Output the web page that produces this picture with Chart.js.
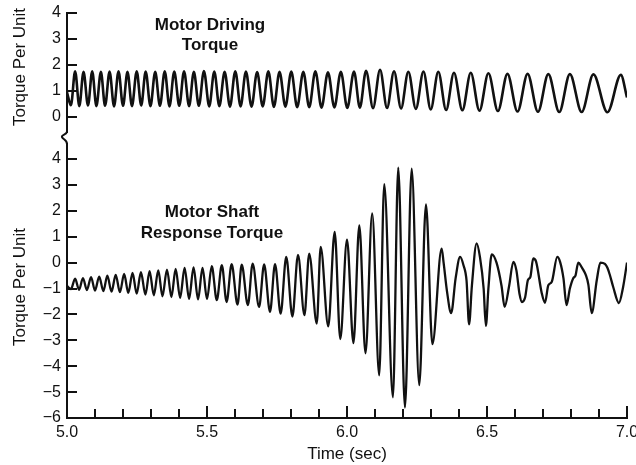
<!DOCTYPE html>
<html>
<head>
<meta charset="utf-8">
<title>Motor driving / shaft response torque</title>
<script src="https://cdn.jsdelivr.net/npm/chart.js@4.4.1/dist/chart.umd.min.js"></script>
<style>
  html, body { margin: 0; padding: 0; background: #fff; }
  #wrap { position: relative; width: 636px; height: 465px; }
  #wrap canvas { position: absolute; left: 0; top: 0; }
</style>
</head>
<body>
<div id="wrap">
  <canvas id="driveChart" width="636" height="465"></canvas>
  <canvas id="shaftChart" width="636" height="465"></canvas>
</div>
<script>
// --- data (time in s, torque in per unit) ---

// x axis ticks: every 0.1 s, labelled every 0.5 s
const timeTicks = [5.0, 5.1, 5.2, 5.3, 5.4, 5.5, 5.6, 5.7, 5.8, 5.9, 6.0,
                   6.1, 6.2, 6.3, 6.4, 6.5, 6.6, 6.7, 6.8, 6.9, 7.0];
const timeLabels = ['5.0', '5.5', '6.0', '6.5', '7.0'];
const driveTicks = [0, 1, 2, 3, 4];
const shaftTicks = [-6, -5, -4, -3, -2, -1, 0, 1, 2, 3, 4];

// motor driving torque: peaks / troughs of the pulsation
const driveTime = [5.000, 5.014, 5.029, 5.044, 5.059, 5.075, 5.090, 5.105, 5.121, 5.136,
    5.152, 5.168, 5.184, 5.200, 5.216, 5.232, 5.249, 5.265, 5.281, 5.298,
    5.315, 5.332, 5.349, 5.366, 5.383, 5.401, 5.418, 5.436, 5.453, 5.471,
    5.489, 5.508, 5.526, 5.544, 5.563, 5.582, 5.601, 5.620, 5.639, 5.659,
    5.679, 5.699, 5.719, 5.739, 5.759, 5.780, 5.801, 5.822, 5.844, 5.865,
    5.887, 5.909, 5.932, 5.955, 5.978, 6.001, 6.025, 6.046, 6.068, 6.093,
    6.118, 6.143, 6.168, 6.193, 6.219, 6.246, 6.273, 6.299, 6.326, 6.354,
    6.382, 6.412, 6.442, 6.473, 6.505, 6.539, 6.573, 6.609, 6.645, 6.682,
    6.719, 6.758, 6.796, 6.838, 6.880, 6.930, 6.978, 7.000];
const driveTorque = [0.95, 0.45, 1.76, 0.42, 1.74, 0.44, 1.76, 0.42, 1.74, 0.43,
    1.75, 0.41, 1.76, 0.43, 1.74, 0.42, 1.76, 0.44, 1.75, 0.42,
    1.74, 0.43, 1.76, 0.41, 1.75, 0.43, 1.76, 0.42, 1.74, 0.43,
    1.77, 0.41, 1.75, 0.42, 1.74, 0.40, 1.76, 0.41, 1.75, 0.40,
    1.73, 0.41, 1.76, 0.39, 1.74, 0.40, 1.75, 0.38, 1.74, 0.38,
    1.76, 0.36, 1.72, 0.37, 1.74, 0.35, 1.75, 0.36, 1.78, 0.34,
    1.82, 0.35, 1.76, 0.33, 1.74, 0.31, 1.75, 0.29, 1.74, 0.27,
    1.70, 0.26, 1.70, 0.24, 1.68, 0.23, 1.66, 0.21, 1.66, 0.20,
    1.65, 0.19, 1.65, 0.19, 1.64, 0.18, 1.62, 0.75];

// motor shaft response torque
const shaftTime = [5.000, 5.014, 5.029, 5.043, 5.057, 5.071, 5.086, 5.100, 5.115, 5.130,
    5.144, 5.159, 5.174, 5.189, 5.204, 5.219, 5.234, 5.249, 5.264, 5.280,
    5.295, 5.310, 5.326, 5.341, 5.357, 5.373, 5.388, 5.404, 5.420, 5.436,
    5.452, 5.468, 5.484, 5.500, 5.517, 5.535, 5.553, 5.570, 5.588, 5.609,
    5.624, 5.646, 5.663, 5.686, 5.704, 5.725, 5.743, 5.763, 5.783, 5.805,
    5.825, 5.848, 5.865, 5.892, 5.906, 5.933, 5.956, 5.976, 6.000, 6.023,
    6.044, 6.066, 6.090, 6.115, 6.133, 6.164, 6.183, 6.207, 6.231, 6.258,
    6.282, 6.305, 6.338, 6.345, 6.357, 6.372, 6.388, 6.404, 6.416, 6.427,
    6.436, 6.446, 6.463, 6.475, 6.488, 6.496, 6.505, 6.517, 6.534, 6.552,
    6.563, 6.579, 6.594, 6.605, 6.616, 6.625, 6.636, 6.646, 6.655, 6.665,
    6.675, 6.695, 6.707, 6.719, 6.731, 6.751, 6.761, 6.773, 6.784, 6.796,
    6.808, 6.816, 6.826, 6.838, 6.845, 6.852, 6.862, 6.874, 6.892, 6.905,
    6.921, 6.930, 6.938, 6.951, 6.971, 6.986, 7.000];
const shaftTorque = [-0.90, -1.02, -0.62, -1.05, -0.60, -1.06, -0.56, -1.08, -0.54, -1.10,
    -0.50, -1.12, -0.47, -1.14, -0.44, -1.17, -0.40, -1.20, -0.37, -1.23,
    -0.33, -1.26, -0.30, -1.30, -0.27, -1.33, -0.24, -1.36, -0.20, -1.40,
    -0.18, -1.42, -0.20, -1.40, -0.14, -1.45, -0.10, -1.52, -0.06, -1.62,
    -0.08, -1.64, -0.04, -1.71, -0.07, -1.90, -0.06, -1.97, 0.22, -2.08,
    0.30, -2.03, 0.35, -2.35, 0.61, -2.46, 1.19, -2.95, 0.89, -3.11,
    1.44, -3.50, 1.90, -4.35, 3.03, -5.20, 3.67, -5.60, 3.63, -4.73,
    2.25, -3.15, 0.54, 0.00, -1.10, -1.95, -0.60, 0.22, -0.10, -0.70,
    -2.38, -0.90, 0.74, 0.20, -1.00, -2.44, -1.00, 0.32, 0.00, -0.90,
    -1.71, -0.90, 0.03, -0.30, -1.20, -1.52, -1.35, -0.68, -0.55, 0.16,
    0.05, -1.15, -1.55, -0.87, -0.75, 0.22, 0.03, -0.60, -1.64, -1.00,
    -0.60, -0.50, 0.00, -0.17, -0.30, -0.45, -0.85, -1.95, -0.68, 0.00,
    -0.05, -0.20, -0.45, -0.95, -1.56, -0.95, 0.00];

// --- look ---
const INK = '#111';
const FONT = "'Liberation Sans', Arial, Helvetica, sans-serif";

function fmtTorque(v) {
    return v < 0 ? '\u2212' + (-v) : String(v);
}

function toPoints(xs, ys) {
    return xs.map((x, i) => ({ x: x, y: ys[i] }));
}

// inward tick marks, axis break, panel notes and the rotated y titles
const decorPlugin = {
    id: 'decor',
    afterDraw(chart, args, opts) {
        const ctx = chart.ctx;
        const area = chart.chartArea;
        ctx.save();
        ctx.strokeStyle = INK;
        ctx.fillStyle = INK;
        ctx.lineWidth = 2;

        const ys = chart.scales.y;
        ys.ticks.forEach(t => {
            const py = Math.round(ys.getPixelForValue(t.value));
            ctx.beginPath();
            ctx.moveTo(area.left, py);
            ctx.lineTo(area.left + 10, py);
            ctx.stroke();
        });

        const xs = chart.scales.x;
        if (xs.options.display) {
            xs.ticks.forEach(t => {
                const px = Math.round(xs.getPixelForValue(t.value));
                const len = timeLabels.includes(t.value.toFixed(1)) ? 12 : 9;
                ctx.beginPath();
                ctx.moveTo(px, area.bottom);
                ctx.lineTo(px, area.bottom - len);
                ctx.stroke();
            });
        }

        if (opts.axisBreak) {
            const x0 = area.left;
            const yb = area.bottom;
            ctx.beginPath();
            ctx.moveTo(x0, yb - 1);
            ctx.bezierCurveTo(x0, yb + 2, x0 - 6, yb + 2, x0 - 5, yb + 4.5);
            ctx.bezierCurveTo(x0 - 4, yb + 7, x0, yb + 7, x0, yb + 11.5);
            ctx.stroke();
        }

        ctx.textAlign = 'center';
        ctx.textBaseline = 'middle';
        (opts.notes || []).forEach(n => {
            ctx.font = 'bold 17px ' + FONT;
            ctx.fillText(n.text, n.x, n.y);
        });

        if (opts.yTitle) {
            ctx.font = '17px ' + FONT;
            ctx.translate(opts.yTitle.x, opts.yTitle.y);
            ctx.rotate(-Math.PI / 2);
            ctx.fillText(opts.yTitle.text, 0, 0);
        }
        ctx.restore();
    }
};

function yScale(min, max, tickValues) {
    return {
        type: 'linear',
        min: min,
        max: max,
        afterBuildTicks: s => { s.ticks = tickValues.map(v => ({ value: v })); },
        afterFit: s => { s.width = 67; s.paddingTop = 0; s.paddingBottom = 0; },
        grid: { display: false, drawTicks: false },
        border: { display: true, color: INK, width: 2 },
        ticks: { padding: 6, color: INK, font: { family: FONT, size: 16 }, callback: fmtTorque }
    };
}

function traceDataset(xs, ys, width) {
    return {
        data: toPoints(xs, ys),
        borderColor: INK,
        borderWidth: width,
        pointRadius: 0,
        fill: false,
        cubicInterpolationMode: 'monotone'
    };
}

// 1. top panel: motor driving torque
new Chart(document.getElementById('driveChart'), {
    type: 'line',
    data: { datasets: [traceDataset(driveTime, driveTorque, 2.6)] },
    options: {
        responsive: false,
        devicePixelRatio: 1,
        animation: false,
        layout: { padding: { left: 0, right: 9, top: 13, bottom: 332.4 } },
        scales: {
            x: { type: 'linear', min: 5, max: 7, display: false },
            y: yScale(-0.6, 4, driveTicks)
        },
        plugins: {
            legend: { display: false },
            tooltip: { enabled: false },
            decor: {
                axisBreak: true,
                notes: [{ text: 'Motor Driving', x: 210, y: 25 }, { text: 'Torque', x: 210, y: 45 }],
                yTitle: { text: 'Torque Per Unit', x: 20, y: 67 }
            }
        }
    },
    plugins: [decorPlugin]
});

// 2. bottom panel: motor shaft response torque, carries the time axis
new Chart(document.getElementById('shaftChart'), {
    type: 'line',
    data: { datasets: [traceDataset(shaftTime, shaftTorque, 2.3)] },
    options: {
        responsive: false,
        devicePixelRatio: 1,
        animation: false,
        layout: { padding: { left: 0, right: 9, top: 143.5, bottom: 0 } },
        scales: {
            x: {
                type: 'linear',
                min: 5,
                max: 7,
                afterBuildTicks: s => { s.ticks = timeTicks.map(v => ({ value: v })); },
                afterFit: s => { s.height = 47; s.paddingLeft = 0; s.paddingRight = 0; },
                grid: { display: false, drawTicks: false },
                border: { display: true, color: INK, width: 2 },
                ticks: {
                    padding: 5,
                    autoSkip: false,
                    maxRotation: 0,
                    color: INK,
                    font: { family: FONT, size: 16 },
                    callback: v => {
                        const s = Number(v).toFixed(1);
                        return timeLabels.includes(s) ? s : '';
                    }
                },
                title: { display: true, text: 'Time (sec)', color: INK, font: { family: FONT, size: 17 }, padding: 0 }
            },
            y: yScale(-6, 4.6, shaftTicks)
        },
        plugins: {
            legend: { display: false },
            tooltip: { enabled: false },
            decor: {
                notes: [{ text: 'Motor Shaft', x: 212, y: 212 }, { text: 'Response Torque', x: 212, y: 233 }],
                yTitle: { text: 'Torque Per Unit', x: 20, y: 287 }
            }
        }
    },
    plugins: [decorPlugin]
});
</script>
</body>
</html>
